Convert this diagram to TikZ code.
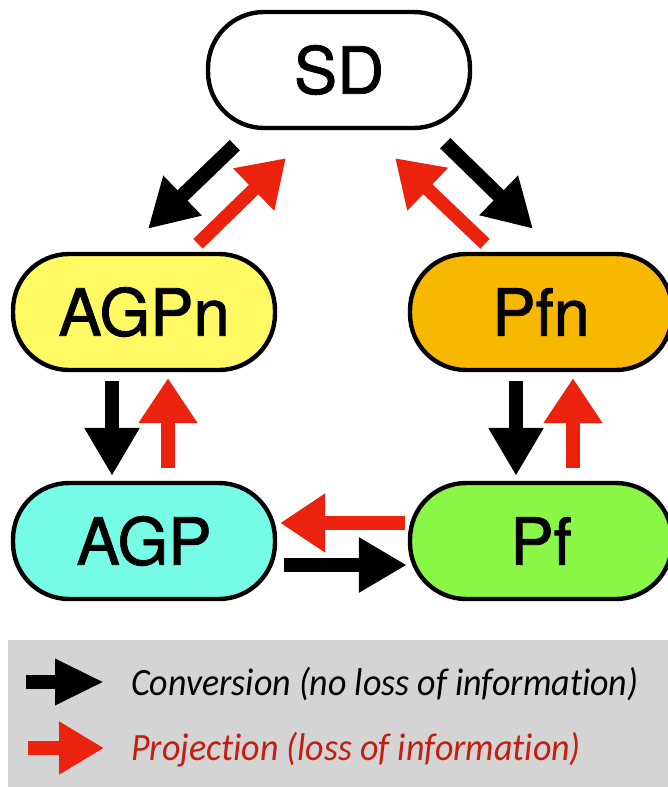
\documentclass[tikz,border=0pt]{standalone}
\usepackage{fontspec}
\setmainfont{TeX Gyre Heros}
\newfontfamily\nodefont[FakeBold=1.3]{TeX Gyre Heros}
\newfontfamily\legendfont[FakeStretch=0.93, Ligatures=NoCommon]{Carlito}
\usepackage{xcolor}
\usetikzlibrary{positioning, arrows.meta, calc}

\definecolor{agpnyellow}{RGB}{255,250,100}
\definecolor{pfnorange}{RGB}{248,184,0}
\definecolor{agpcyan}{RGB}{118,251,230}
\definecolor{pfgreen}{RGB}{138,246,70}
\definecolor{projred}{RGB}{234,34,14}
\definecolor{projtext}{RGB}{196,30,16}
\definecolor{legendgray}{RGB}{212,212,212}

\begin{document}
\begin{tikzpicture}[
    x=0.02cm, y=-0.02cm,
    nd/.style={draw, line width=2.5pt, rounded corners=1.12cm, minimum width=5.24cm,
               minimum height=2.32cm, inner sep=0pt, font=\nodefont\fontsize{37}{40}\selectfont},
    conv/.style={line width=0.29cm, -{Triangle[length=0.96cm, width=1.04cm]}},
    proj/.style={draw=projred, line width=0.27cm, -{Triangle[length=0.9cm, width=1.12cm]}},
    lgd/.style={anchor=base west, font=\legendfont\itshape\fontsize{22}{24}\selectfont},
]
  \useasboundingbox (0,0) rectangle (668,787);
  % Representations
  \node[nd, fill=white] (sd) at (339,70) {SD};
  \node[nd, fill=agpnyellow] (agpn) at (144,312) {AGPn};
  \node[nd, fill=pfnorange] (pfn) at (541,312) {Pfn};
  \node[nd, fill=agpcyan] (agp) at (144,541) {AGP};
  \node[nd, fill=pfgreen] (pf) at (541,541) {Pf};
  % Conversions
  \draw[conv] ($(sd.south west)+(29,15)$) -- ($(agpn.north)+(4,-23)$);
  \draw[conv] ($(sd.south east)+(-27,13)$) -- ($(pfn.north)+(-8,-23)$);
  \draw[conv] ($(agpn.south)+(-32,9)$) -- ($(agp.north)+(-32,-5)$);
  \draw[conv] ($(pfn.south)+(-25,9)$) -- ($(pf.north)+(-25,-5)$);
  \draw[conv] ($(agp.east)+(7,24)$) -- ($(pf.west)+(-1,24)$);
  % Projections
  \draw[proj] ($(agpn.north)+(54,-8)$) -- ($(sd.south west)+(80,28)$);
  \draw[proj] ($(pfn.north)+(-56,-8)$) -- ($(sd.south east)+(-77,28)$);
  \draw[proj] ($(agp.north)+(24,-13)$) -- ($(agpn.south)+(24,6)$);
  \draw[proj] ($(pf.north)+(32,-13)$) -- ($(pfn.south)+(32,6)$);
  \draw[proj] ($(pf.west)+(-3,-18)$) -- ($(agp.east)+(3,-18)$);
  % Legend
  \fill[legendgray] (8,640) rectangle (668,787);
  \coordinate (convtail) at (26,682);
  \coordinate (convtip) at (104,682);
  \coordinate (projtail) at (28,748);
  \coordinate (projtip) at (104,748);
  \draw[conv, -{Triangle[length=0.98cm, width=0.86cm]}] (convtail) -- (convtip);
  \draw[proj, -{Triangle[length=0.9cm, width=1.0cm]}] (projtail) -- (projtip);
  \node[lgd] (convtxt) at (125,695) {Conversion (no loss of information)};
  \node[lgd, text=projtext] (projtxt) at (125,760) {Projection (loss of information)};
\end{tikzpicture}
\end{document}
